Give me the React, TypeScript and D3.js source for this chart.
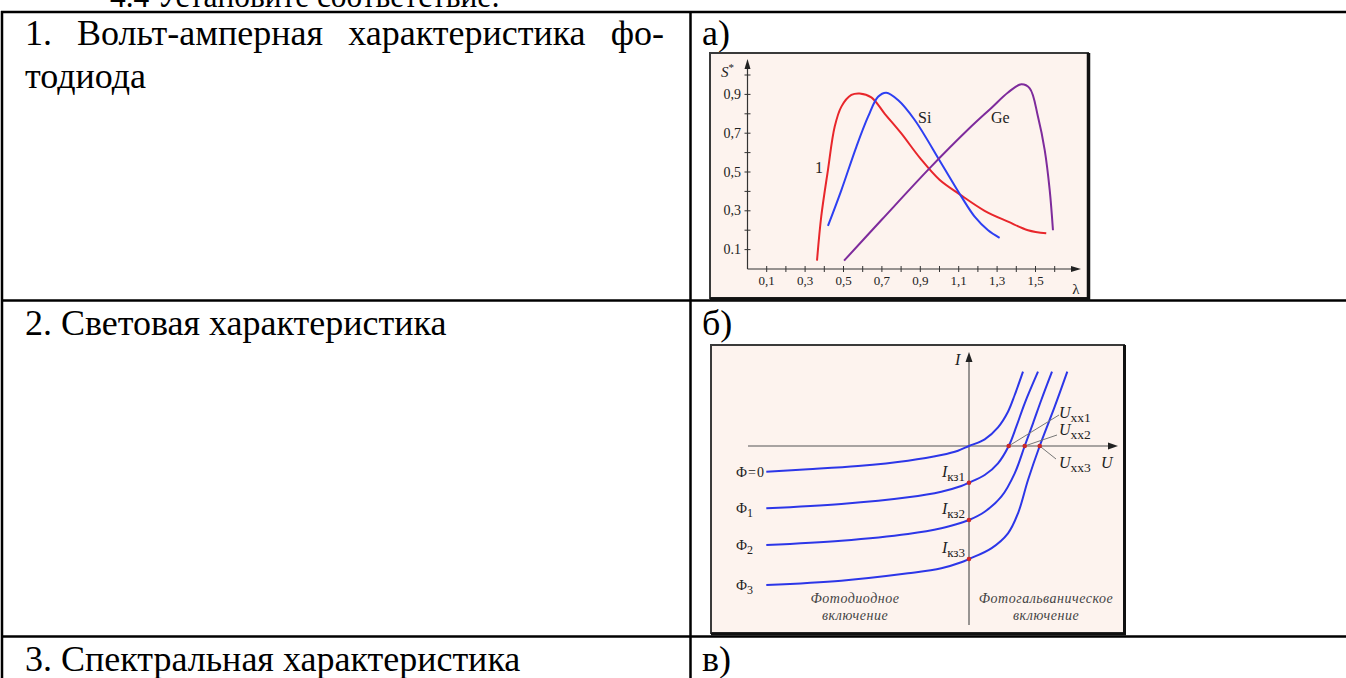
import { useEffect, useRef } from 'react';
import * as d3 from 'd3';

// page / table text
const introLine = '4.4 Установите соответствие:';
const rowTitles = ['1. Вольт-амперная характеристика фо-', '2. Световая характеристика', '3. Спектральная характеристика'];
const rowContinuation = 'тодиода';
const rowLetters = ['а)', 'б)', 'в)'];

// chart a) spectral sensitivity S*(λ)
const lambdaTicks = [0.1, 0.2, 0.3, 0.4, 0.5, 0.6, 0.7, 0.8, 0.9, 1.0, 1.1, 1.2, 1.3, 1.4, 1.5, 1.6];
const lambdaLabelValues = [0.1, 0.3, 0.5, 0.7, 0.9, 1.1, 1.3, 1.5];
const lambdaLabels = ['0,1', '0,3', '0,5', '0,7', '0,9', '1,1', '1,3', '1,5'];
const sTicks = [0.1, 0.2, 0.3, 0.4, 0.5, 0.6, 0.7, 0.8, 0.9, 1.0];
const sLabelValues = [0.1, 0.3, 0.5, 0.7, 0.9];
const sLabels = ['0.1', '0,3', '0,5', '0,7', '0,9'];

const curve1 = [
  [0.362, 0.043], [0.384, 0.27], [0.419, 0.51], [0.454, 0.733], [0.489, 0.837], [0.541, 0.897],
  [0.584, 0.905], [0.645, 0.885], [0.715, 0.8], [0.8, 0.7], [0.9, 0.57], [1.0, 0.46],
  [1.105, 0.385], [1.235, 0.3], [1.357, 0.244], [1.461, 0.2], [1.556, 0.184],
];
const curveSi = [
  [0.419, 0.222], [0.489, 0.407], [0.567, 0.63], [0.628, 0.785], [0.68, 0.888], [0.723, 0.909],
  [0.784, 0.871], [0.871, 0.768], [1.009, 0.545], [1.114, 0.373], [1.183, 0.27], [1.253, 0.2], [1.313, 0.161],
];
const curveGe = [
  [0.503, 0.043], [0.7, 0.255], [0.949, 0.52], [1.15, 0.72], [1.27, 0.83], [1.357, 0.91],
  [1.426, 0.952], [1.47, 0.931], [1.513, 0.785], [1.548, 0.613], [1.574, 0.407], [1.591, 0.2],
];

// chart b) I-V curves of the photodiode for several light fluxes
const phiSubs = ['', '1', '2', '3'];
const ivPhi0 = [
  [-20.27, -2.57], [-16.1, -2.33], [-11.1, -2.0], [-6.1, -1.47], [-2.77, -0.9], [-1.1, -0.47],
  [0, 0], [1.57, 0.67], [2.9, 1.87], [3.9, 3.43], [4.57, 5.1], [5.4, 7.43],
];
const ivPhi1 = [
  [-20.27, -6.23], [-12.77, -5.8], [-6.1, -5.13], [-2.77, -4.57], [-0.77, -4.0], [0, -3.67],
  [1.57, -2.9], [2.9, -1.73], [3.97, 0], [4.73, 1.93], [5.57, 4.27], [6.9, 7.43],
];
const ivPhi2 = [
  [-20.27, -9.9], [-12.77, -9.47], [-6.1, -8.8], [-2.77, -8.23], [-0.77, -7.67], [0, -7.4],
  [1.57, -6.57], [3.23, -5.07], [4.57, -2.73], [5.57, 0], [6.4, 2.27], [7.23, 4.6], [8.3, 7.43],
];
const ivPhi3 = [
  [-20.27, -13.9], [-12.77, -13.47], [-6.1, -12.73], [-2.77, -12.23], [-0.77, -11.63], [0, -11.3],
  [2.23, -10.23], [3.9, -8.73], [4.9, -6.73], [5.9, -3.4], [7.07, 0], [8.57, 3.93], [9.83, 7.43],
];
const shortCircuit = [-3.67, -7.4, -11.3];
const openCircuit = [3.97, 5.57, 7.07];
const iscSubs = ['кз1', 'кз2', 'кз3'];
const uocSubs = ['хх1', 'хх2', 'хх3'];

const serif = "'Liberation Serif', 'Times New Roman', Times, 'DejaVu Serif', serif";

function App() {
  const ref = useRef<SVGSVGElement>(null);

  useEffect(() => {
    const svg = d3.select(ref.current);
    svg.selectAll('*').remove();

    // ---- page text and table ----
    svg.append('text')
      .attr('x', 110).attr('y', 7)
      .attr('font-family', serif).attr('font-size', 34)
      .attr('textLength', 390).attr('lengthAdjust', 'spacingAndGlyphs')
      .text(introLine);

    const grid = svg.append('g').attr('stroke', '#000').attr('stroke-width', 2.5);
    grid.append('line').attr('x1', 1).attr('x2', 1346).attr('y1', 12).attr('y2', 12);
    grid.append('line').attr('x1', 2).attr('x2', 2).attr('y1', 11).attr('y2', 678);
    grid.append('line').attr('x1', 690.5).attr('x2', 690.5).attr('y1', 11).attr('y2', 678);
    grid.append('line').attr('x1', 1).attr('x2', 1346).attr('y1', 300.5).attr('y2', 300.5);
    grid.append('line').attr('x1', 1).attr('x2', 1346).attr('y1', 636.5).attr('y2', 636.5);

    const rowBase = [45, 335, 671];

    // justified first line of row 1
    const words = rowTitles[0].split(' ');
    const wordNodes = words.map(w => svg.append('text')
      .attr('font-family', serif).attr('font-size', 36).attr('y', rowBase[0]).text(w));
    const widths = wordNodes.map(n => (n.node() as SVGTextElement).getComputedTextLength());
    const gap = (664 - 25 - d3.sum(widths)) / (words.length - 1);
    let cx = 25;
    wordNodes.forEach((n, i) => { n.attr('x', cx); cx += widths[i] + gap; });

    svg.append('text').attr('x', 25).attr('y', 88)
      .attr('font-family', serif).attr('font-size', 36).text(rowContinuation);
    rowTitles.slice(1).forEach((t, i) => {
      svg.append('text').attr('x', 25).attr('y', rowBase[i + 1])
        .attr('font-family', serif).attr('font-size', 36).text(t);
    });
    rowLetters.forEach((t, i) => {
      svg.append('text').attr('x', 702).attr('y', rowBase[i])
        .attr('font-family', serif).attr('font-size', 36).text(t);
    });

    // ---- chart a ----
    const a = svg.append('g');
    a.append('rect').attr('x', 710).attr('y', 53).attr('width', 378).attr('height', 245)
      .attr('fill', '#fdf3ee').attr('stroke', '#3a3a3a').attr('stroke-width', 2);
    a.append('path').attr('d', 'M1088.5,53 V299 H710').attr('fill', 'none')
      .attr('stroke', '#111').attr('stroke-width', 3.5);

    const xA = d3.scaleLinear().domain([0, 1.6]).range([747.5, 1054.7]);
    const yA = d3.scaleLinear().domain([0, 1]).range([269, 75]);

    a.append('line').attr('x1', xA(0)).attr('x2', xA(0)).attr('y1', yA(0)).attr('y2', 66)
      .attr('stroke', '#333').attr('stroke-width', 1.2);
    a.append('path').attr('d', `M${xA(0)},59 L${xA(0) - 3},69 L${xA(0) + 3},69 Z`).attr('fill', '#222');
    a.append('line').attr('x1', xA(0)).attr('x2', 1074).attr('y1', yA(0)).attr('y2', yA(0))
      .attr('stroke', '#333').attr('stroke-width', 1.2);
    a.append('path').attr('d', `M1081,${yA(0)} L1071,${yA(0) - 3} L1071,${yA(0) + 3} Z`).attr('fill', '#222');

    a.selectAll('line.xt').data(lambdaTicks).join('line').attr('class', 'xt')
      .attr('x1', d => xA(d)).attr('x2', d => xA(d)).attr('y1', yA(0) - 3).attr('y2', yA(0) + 3)
      .attr('stroke', '#333').attr('stroke-width', 1);
    a.selectAll('line.yt').data(sTicks).join('line').attr('class', 'yt')
      .attr('x1', xA(0) - 3).attr('x2', xA(0) + 3).attr('y1', d => yA(d)).attr('y2', d => yA(d))
      .attr('stroke', '#333').attr('stroke-width', 1);

    a.selectAll('text.xl').data(lambdaLabelValues).join('text').attr('class', 'xl')
      .attr('x', d => xA(d)).attr('y', 285).attr('text-anchor', 'middle')
      .attr('font-family', serif).attr('font-size', 13).attr('fill', '#222')
      .text((d, i) => lambdaLabels[i]);
    a.selectAll('text.yl').data(sLabelValues).join('text').attr('class', 'yl')
      .attr('x', 741).attr('y', d => yA(d) + 4.5).attr('text-anchor', 'end')
      .attr('font-family', serif).attr('font-size', 14).attr('fill', '#222')
      .text((d, i) => sLabels[i]);

    a.append('text').attr('x', 1076).attr('y', 294).attr('text-anchor', 'middle')
      .attr('font-family', serif).attr('font-size', 15).attr('fill', '#222').text('λ');
    const sLab = a.append('text').attr('x', 721).attr('y', 77)
      .attr('font-family', serif).attr('font-size', 15).attr('fill', '#222');
    sLab.append('tspan').attr('font-style', 'italic').text('S');
    sLab.append('tspan').attr('font-size', 11).attr('dy', -6).text('*');

    const lineA = d3.line<number[]>().x(d => xA(d[0])).y(d => yA(d[1])).curve(d3.curveCatmullRom.alpha(0.5));
    const seriesA = [
      { pts: curve1, color: '#e8262b' },
      { pts: curveSi, color: '#2d3ff2' },
      { pts: curveGe, color: '#7e2b9c' },
    ];
    a.selectAll('path.curve').data(seriesA).join('path').attr('class', 'curve')
      .attr('d', d => lineA(d.pts)).attr('fill', 'none')
      .attr('stroke', d => d.color).attr('stroke-width', 2);

    a.append('text').attr('x', 815).attr('y', 173).attr('font-family', serif).attr('font-size', 16).attr('fill', '#222').text('1');
    a.append('text').attr('x', 918).attr('y', 123).attr('font-family', serif).attr('font-size', 16).attr('fill', '#222').text('Si');
    a.append('text').attr('x', 991).attr('y', 123).attr('font-family', serif).attr('font-size', 16).attr('fill', '#222').text('Ge');

    // ---- chart b ----
    const b = svg.append('g');
    b.append('rect').attr('x', 711).attr('y', 345).attr('width', 413).attr('height', 288)
      .attr('fill', '#fdf3ee').attr('stroke', '#3a3a3a').attr('stroke-width', 2);
    b.append('path').attr('d', 'M1124.5,345 V634 H711').attr('fill', 'none')
      .attr('stroke', '#111').attr('stroke-width', 3);

    const xB = d3.scaleLinear().domain([-24, 15]).range([729, 1119]);
    const yB = d3.scaleLinear().domain([-18, 9.6]).range([626, 350]);

    b.append('line').attr('x1', 748).attr('x2', 1110).attr('y1', yB(0)).attr('y2', yB(0))
      .attr('stroke', '#555').attr('stroke-width', 1.2);
    b.append('path').attr('d', `M1118,${yB(0)} L1108,${yB(0) - 3.5} L1108,${yB(0) + 3.5} Z`).attr('fill', '#222');
    b.append('line').attr('x1', xB(0)).attr('x2', xB(0)).attr('y1', 625).attr('y2', 360)
      .attr('stroke', '#555').attr('stroke-width', 1.2);
    b.append('path').attr('d', `M${xB(0)},352 L${xB(0) - 3.5},362 L${xB(0) + 3.5},362 Z`).attr('fill', '#222');

    const lineB = d3.line<number[]>().x(d => xB(d[0])).y(d => yB(d[1])).curve(d3.curveCatmullRom.alpha(0.5));
    const seriesB = [ivPhi0, ivPhi1, ivPhi2, ivPhi3];
    b.selectAll('path.iv').data(seriesB).join('path').attr('class', 'iv')
      .attr('d', d => lineB(d)).attr('fill', 'none')
      .attr('stroke', '#2c36e8').attr('stroke-width', 2);

    // leader lines to U_хх labels
    const leaderEnds = [[1059, 415], [1057, 435], [1056, 459]];
    b.selectAll('line.lead').data(openCircuit).join('line').attr('class', 'lead')
      .attr('x1', d => xB(d)).attr('y1', yB(0))
      .attr('x2', (d, i) => leaderEnds[i][0]).attr('y2', (d, i) => leaderEnds[i][1])
      .attr('stroke', '#777').attr('stroke-width', 1);

    b.selectAll('circle.isc').data(shortCircuit).join('circle').attr('class', 'isc')
      .attr('cx', xB(0)).attr('cy', d => yB(d)).attr('r', 2.3).attr('fill', '#c8282a');
    b.selectAll('circle.uoc').data(openCircuit).join('circle').attr('class', 'uoc')
      .attr('cx', d => xB(d)).attr('cy', yB(0)).attr('r', 2.3).attr('fill', '#c8282a');

    // flux labels
    seriesB.forEach((s, i) => {
      const t = b.append('text').attr('x', 736).attr('y', yB(s[0][1]) + 5)
        .attr('font-family', serif).attr('font-size', 14).attr('fill', '#222');
      t.append('tspan').text('Ф');
      if (phiSubs[i]) {
        t.append('tspan').attr('font-size', 12).attr('dy', 4).text(phiSubs[i]);
      } else {
        t.append('tspan').attr('dx', 1).text('=');
        t.append('tspan').attr('dx', 1).text('0');
      }
    });

    // I_кз labels
    shortCircuit.forEach((v, i) => {
      const t = b.append('text').attr('x', 965).attr('y', yB(v) - 6).attr('text-anchor', 'end')
        .attr('font-family', serif).attr('font-size', 16).attr('fill', '#222');
      t.append('tspan').attr('font-style', 'italic').text('I');
      t.append('tspan').attr('font-size', 13).attr('dy', 4).text(iscSubs[i]);
    });

    // U_хх labels
    const uocBase = [418, 435, 468];
    uocSubs.forEach((s, i) => {
      const t = b.append('text').attr('x', 1059).attr('y', uocBase[i])
        .attr('font-family', serif).attr('font-size', 16).attr('fill', '#222');
      t.append('tspan').attr('font-style', 'italic').text('U');
      t.append('tspan').attr('font-size', 13.5).attr('dy', 4).text(s);
    });
    b.append('text').attr('x', 1101).attr('y', 468).attr('font-family', serif).attr('font-size', 16)
      .attr('font-style', 'italic').attr('fill', '#222').text('U');
    b.append('text').attr('x', 955).attr('y', 365).attr('font-family', serif).attr('font-size', 16)
      .attr('font-style', 'italic').attr('fill', '#222').text('I');

    const modes = [
      { x: 855, lines: ['Фотодиодное', 'включение'] },
      { x: 1046, lines: ['Фотогальваническое', 'включение'] },
    ];
    modes.forEach(m => {
      m.lines.forEach((l, j) => {
        b.append('text').attr('x', m.x).attr('y', 603 + j * 17).attr('text-anchor', 'middle')
          .attr('font-family', serif).attr('font-size', 14).attr('font-style', 'italic')
          .attr('letter-spacing', 0.5).attr('fill', '#444').text(l);
      });
    });
  }, []);

  return (
    <svg
      ref={ref}
      width={1346}
      height={678}
      style={{ position: 'absolute', left: 0, top: 0, background: '#fff' }}
    />
  );
}

export default App;
